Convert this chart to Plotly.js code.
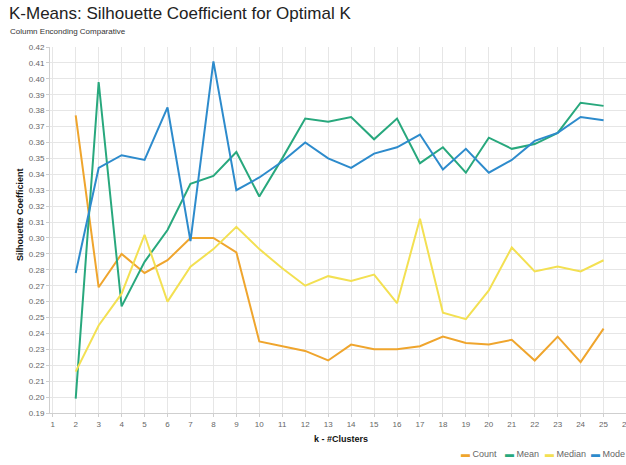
<!DOCTYPE html>
<html>
<head>
<meta charset="utf-8">
<script src="https://cdn.plot.ly/plotly-3.0.1.min.js"></script>
<style>
html,body{margin:0;padding:0;overflow:hidden;background:#fff;width:626px;height:465px;}
#chart{width:650px;height:465px;}
</style>
</head>
<body>
<div id="chart"></div>
<script>
const kValues = [2,3,4,5,6,7,8,9,10,11,12,13,14,15,16,17,18,19,20,21,22,23,24,25];
const countVals  = [0.377,0.269,0.290,0.278,0.286,0.300,0.300,0.291,0.235,0.232,0.229,0.223,0.233,0.230,0.230,0.232,0.238,0.234,0.233,0.236,0.223,0.238,0.222,0.243];
const meanVals   = [0.199,0.398,0.257,0.285,0.305,0.334,0.339,0.354,0.326,0.350,0.375,0.373,0.376,0.362,0.375,0.347,0.357,0.341,0.363,0.356,0.359,0.366,0.385,0.383];
const medianVals = [0.216,0.245,0.265,0.302,0.260,0.282,0.293,0.307,0.293,0.281,0.270,0.276,0.273,0.277,0.259,0.312,0.253,0.249,0.267,0.294,0.279,0.282,0.279,0.286];
const modeVals   = [0.278,0.344,0.352,0.349,0.382,0.298,0.411,0.330,0.338,0.348,0.360,0.350,0.344,0.353,0.357,0.365,0.343,0.356,0.341,0.349,0.361,0.366,0.376,0.374];
const seriesNames = ['Count','Mean','Median','Mode'];
const seriesColors = ['#efa52d','#28a87d','#f3e052','#2d8bcc'];
const xTickVals = [1,2,3,4,5,6,7,8,9,10,11,12,13,14,15,16,17,18,19,20,21,22,23,24,25,26];
const titleText = 'K-Means: Silhouette Coefficient for Optimal K';
const subtitleText = 'Column Enconding Comparative';
const xTitle = 'k - #Clusters';
const yTitle = 'Silhouette Coefficient';

const allVals = [countVals, meanVals, medianVals, modeVals];
const W = 650, H = 465;
const mL = 50, mR = 12, mT = 47, mB = 52;

const traces = allVals.map((v,i)=>({
  x: kValues, y: v, type:'scatter', mode:'lines', name: seriesNames[i],
  line:{color: seriesColors[i], width:2}, showlegend:false
}));

const font = 'Liberation Sans, Arial, Helvetica, sans-serif';
const pw = W - mL - mR;
function px2paper(px){ return (px - mL)/pw; }

const legendX = [459, 503, 543, 589];
const annotations = [
  {text: titleText, xref:'paper', yref:'paper', x: px2paper(7), y: 1, xanchor:'left', yanchor:'bottom',
   yshift: 22, showarrow:false, font:{family:font, size:17, color:'#222'}},
  {text: subtitleText, xref:'paper', yref:'paper', x: px2paper(8), y: 1, xanchor:'left', yanchor:'bottom',
   yshift: 9, showarrow:false, font:{family:font, size:8, color:'#333'}},
  {text: '<b>'+yTitle+'</b>', xref:'paper', yref:'paper', x: px2paper(20), y: 1-(215-mT)/(H-mT-mB),
   xanchor:'center', yanchor:'middle', textangle:-90, showarrow:false, font:{family:font, size:9, color:'#111'}},
  {text: '<b>'+xTitle+'</b>', xref:'paper', yref:'paper', x: px2paper(341), y: 0, xanchor:'center', yanchor:'top',
   yshift:-19, showarrow:false, font:{family:font, size:9, color:'#111'}}
];
seriesNames.forEach((n,i)=>{
  annotations.push({text:'<span style="color:'+seriesColors[i]+'">▬</span> '+n, xref:'paper', yref:'paper',
    x: px2paper(legendX[i]), y:0, yshift: -(454-413), xanchor:'left', yanchor:'middle', showarrow:false,
    font:{family:font, size:9, color:'#666'}});
});

const layout = {
  width: W, height: H,
  margin:{l:mL, r:mR, t:mT, b:mB, pad:0},
  paper_bgcolor:'#fff', plot_bgcolor:'#fff',
  font:{family:font, size:8, color:'#666'},
  xaxis:{range:[0.88, 26.5], tickvals:xTickVals, showgrid:true, gridcolor:'#e6e6e6', gridwidth:1,
    zeroline:false, showline:true, linecolor:'#cfcfcf', linewidth:1, ticks:'outside', ticklen:3, tickcolor:'#cfcfcf',
    tickfont:{family:font, size:8, color:'#666'}, fixedrange:true},
  yaxis:{range:[0.19, 0.42], dtick:0.01, tick0:0.19, tickformat:'.2f', showgrid:true, gridcolor:'#e6e6e6', gridwidth:1,
    zeroline:false, showline:true, linecolor:'#cfcfcf', linewidth:1, ticks:'outside', ticklen:3, tickcolor:'#cfcfcf',
    tickfont:{family:font, size:8, color:'#666'}, fixedrange:true},
  annotations: annotations,
  showlegend:false
};
Plotly.newPlot('chart', traces, layout, {displayModeBar:false, staticPlot:true});
</script>
</body>
</html>
